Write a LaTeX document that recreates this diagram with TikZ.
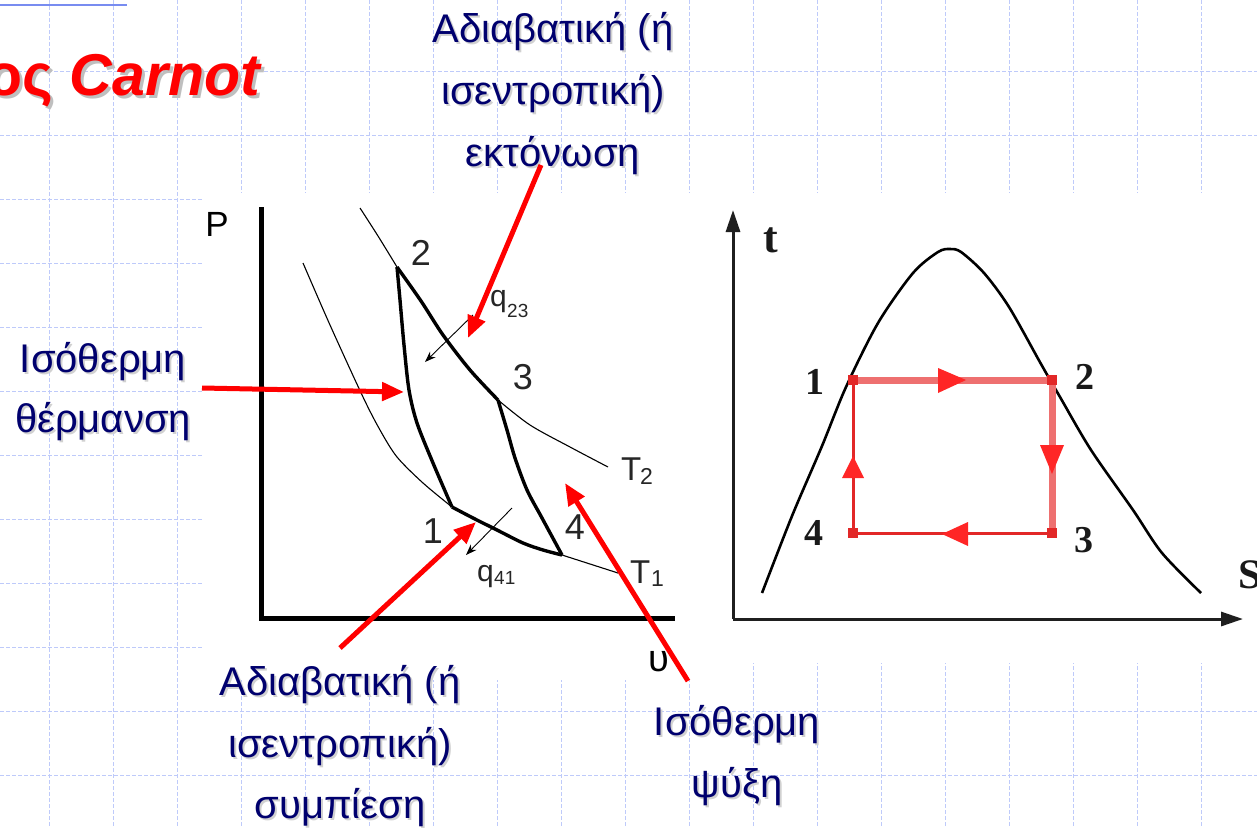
\documentclass[tikz,border=0pt]{standalone}
\usepackage{fontspec}
\setmainfont{Liberation Sans}
\newfontfamily\tsserif{Liberation Serif}
\usetikzlibrary{arrows.meta,calc}
\definecolor{navy}{RGB}{0,0,110}
\definecolor{gridblue}{RGB}{190,202,250}
\definecolor{topblue}{RGB}{120,140,240}
\definecolor{pinkred}{RGB}{238,112,112}
\definecolor{darkred}{RGB}{226,40,40}
\newcommand\glab[4]{%
  \node[gshadow] at (#2+2,#3+2) {#4};
  \node[glabel] (#1) at (#2,#3) {#4};}
\begin{document}
\begin{tikzpicture}[x=1pt,y=-1pt,
  gridline/.style={gridblue, line width=0.8pt, dash pattern=on 4pt off 2pt},
  glabel/.style={text=navy, font=\fontsize{40}{48}\selectfont, anchor=base, inner sep=0pt},
  gshadow/.style={text=black!18, font=\fontsize{40}{48}\selectfont, anchor=base, inner sep=0pt},
  redarrow/.style={red, line width=5pt, -{Triangle[length=22pt,width=18pt]}},
  thincurve/.style={black, line width=1.1pt},
  thickcurve/.style={black, line width=3.4pt, line join=round},
  pvnum/.style={text=black!85, font=\fontsize{36}{36}\selectfont, inner sep=0pt},
  tsnum/.style={text=black!90, font=\tsserif\bfseries\fontsize{38}{38}\selectfont, inner sep=0pt},
  qarrow/.style={black, line width=0.9pt, -{Stealth[length=11pt,width=8pt]}},
  redtri/.style={fill=red!85!white, draw=none}
]
\useasboundingbox (0,0) rectangle (1257,827);
\clip (0,0) rectangle (1257,827);
\fill[white] (0,0) rectangle (1257,827);
% background grid
\foreach \x in {49,113,...,1265} \draw[gridline] (\x,0) -- (\x,827);
\foreach \y in {71,135,...,775} \draw[gridline] (0,\y) -- (1257,\y);
% image panels
\fill[white] (202,193) rectangle (690,680);
\fill[white] (690,193) rectangle (1257,663);
% top blue line
\draw[topblue, line width=2.5pt] (0,5) -- (127,5);
% title
\node[anchor=base east, inner sep=0pt, text=black!25, font=\fontsize{59}{60}\selectfont\bfseries] at (265,98) {ος \textit{Carnot}};
\node[anchor=base east, inner sep=0pt, text=red, font=\fontsize{59}{60}\selectfont\bfseries] (title) at (262,95) {ος \textit{Carnot}};

% ---------- P-v diagram ----------
\coordinate (pvtop) at (261,207);
\coordinate (pvorig) at (261,618);
\coordinate (pvright) at (675,618);
\draw[black, line width=5pt, line join=miter] (pvtop) -- (pvorig) -- (pvright);
\node[pvnum, text=black, font=\fontsize{35}{35}\selectfont] (P) at (217,224) {P};
\node[pvnum, text=black, font=\fontsize{38}{38}\selectfont] (upsilon) at (659,662) {υ};

\coordinate (p2) at (397,267);
\coordinate (p3) at (498,400);
\coordinate (p1) at (452,507);
\coordinate (p4) at (562,555);
% isotherms
\draw[thincurve] plot[smooth] coordinates {(360,208) (378,236) (397,267)};
\draw[thincurve] plot[smooth] coordinates {(498,400) (530,425) (570,447) (608,467)};
\draw[thincurve] plot[smooth] coordinates {(303,263) (330,325) (363,397) (380,430) (397,457) (423,483) (452,507)};
\draw[thincurve] plot[smooth] coordinates {(562,555) (590,564) (618,573)};
% cycle
\draw[thickcurve] plot[smooth] coordinates {(397,267) (421,301) (443,335) (470,370) (498,400)};
\draw[thickcurve] plot[smooth] coordinates {(397,267) (400,300) (404,345) (409,390) (417,423) (433,463) (452,507)};
\draw[thickcurve] plot[smooth] coordinates {(498,400) (507,430) (515,458) (527,490) (542,518) (562,555)};
\draw[thickcurve] plot[smooth] coordinates {(452,507) (473,518) (497,530) (523,543) (543,550) (562,555)};
% heat arrows
\coordinate (q23s) at (473,315);
\coordinate (q23e) at (425,362);
\coordinate (q41s) at (512,508);
\coordinate (q41e) at (466,555);
\draw[qarrow] (q23s) -- (q23e);
\draw[qarrow] (q41s) -- (q41e);
\node[pvnum, font=\fontsize{30}{30}\selectfont, anchor=base west] (q23) at (490,306) {q};
\node[pvnum, font=\fontsize{19}{19}\selectfont, anchor=base west] (q23sub) at (507,317) {23};
\node[pvnum, font=\fontsize{30}{30}\selectfont, anchor=base west] (q41) at (477,581) {q};
\node[pvnum, font=\fontsize{19}{19}\selectfont, anchor=base west] (q41sub) at (494,584) {41};
% point labels
\node[pvnum] (n2) at (421,253) {2};
\node[pvnum] (n3) at (523,377) {3};
\node[pvnum] (n1) at (433,531) {1};
\node[pvnum] (n4) at (575,527) {4};
\node[pvnum, font=\fontsize{33}{33}\selectfont, anchor=base west] (T2) at (621,480) {T};
\node[pvnum, font=\fontsize{23}{23}\selectfont, anchor=base west] (T2s) at (640,484) {2};
\node[pvnum, font=\fontsize{33}{33}\selectfont, anchor=base west] (T1) at (630,583) {T};
\node[pvnum, font=\fontsize{23}{23}\selectfont, anchor=base west] (T1s) at (651,586) {1};

% ---------- T-s diagram ----------
\coordinate (tso) at (733,619);
\coordinate (tstop) at (733,210);
\coordinate (tsright) at (1243,619);
\draw[black!88, line width=3pt, -{Triangle[length=22pt,width=14pt]}] (tso) -- (tstop);
\draw[black!88, line width=3pt, -{Triangle[length=22pt,width=14pt]}] (tso) -- (tsright);
\node[tsnum, font=\tsserif\bfseries\fontsize{44}{44}\selectfont] (tlab) at (771,240) {t};
\node[tsnum, font=\tsserif\bfseries\fontsize{42}{42}\selectfont, anchor=west] (slab) at (1238,575) {S};
\draw[black, line width=2.6pt] plot[smooth, tension=0.5] coordinates {(762,593) (792,516) (822,446) (846,387) (878,323) (913,273) (938,252) (950,249) (961,252) (984,273) (1009,307) (1041,364) (1060,397) (1091,450) (1133,510) (1162,553) (1201,593)};
\coordinate (c1) at (853,380);
\coordinate (c2) at (1052,380);
\coordinate (c3) at (1052,533);
\coordinate (c4) at (853,533);
\draw[pinkred, line width=7pt] (c1) -- (c2) -- (c3);
\draw[darkred, line width=3pt] (c3) -- (c4) -- (c1);
\foreach \c in {c1,c2,c3,c4} \fill[darkred] ($(\c)+(-5,-5)$) rectangle ($(\c)+(5,5)$);
% cycle direction arrows
\fill[redtri] (938,368) -- (938,393) -- (966,380) -- cycle;
\fill[redtri] (1040,445) -- (1064,445) -- (1052,474) -- cycle;
\fill[redtri] (842,478) -- (864,478) -- (853,456) -- cycle;
\fill[redtri] (968,522) -- (968,546) -- (942,534) -- cycle;
\node[tsnum] (m1) at (815,382) {1};
\node[tsnum] (m2) at (1085,377) {2};
\node[tsnum] (m4) at (814,533) {4};
\node[tsnum] (m3) at (1084,540) {3};

% ---------- Greek labels ----------
\glab{topA}{553}{42}{Αδιαβατική (ή}
\glab{topB}{553}{104}{ισεντροπική)}
\glab{topC}{553}{166}{εκτόνωση}
\glab{leftA}{103}{372}{Ισόθερμη}
\glab{leftB}{103}{432}{θέρμανση}
\glab{botA}{340}{695}{Αδιαβατική (ή}
\glab{botB}{340}{757}{ισεντροπική)}
\glab{botC}{340}{818}{συμπίεση}
\glab{rgtA}{737}{735}{Ισόθερμη}
\glab{rgtB}{737}{797}{ψύξη}

% ---------- red pointer arrows ----------
\coordinate (a1s) at (541,165);
\coordinate (a1e) at (468,338);
\coordinate (a2s) at (202,388);
\coordinate (a2e) at (404,392);
\coordinate (a3s) at (340,648);
\coordinate (a3e) at (476,522);
\coordinate (a4s) at (688,681);
\coordinate (a4e) at (565,483);
\draw[redarrow] (a1s) -- (a1e);
\draw[redarrow] (a2s) -- (a2e);
\draw[redarrow] (a3s) -- (a3e);
\draw[redarrow] (a4s) -- (a4e);
\end{tikzpicture}
\end{document}
